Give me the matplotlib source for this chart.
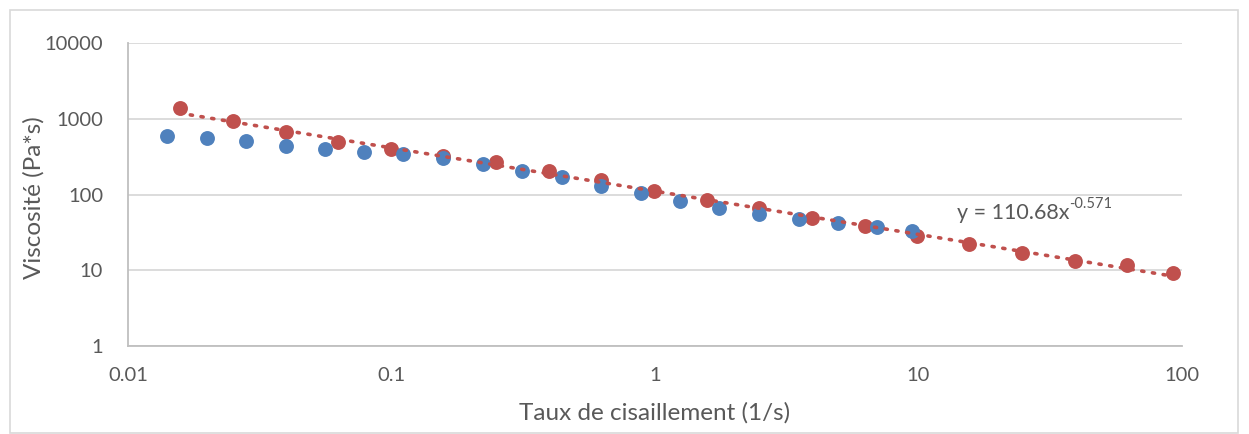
import matplotlib.pyplot as plt
import numpy as np
from matplotlib.patches import Rectangle

# shear rate (1/s) and viscosity (Pa*s)
rate_blue = [0.0141, 0.0199, 0.0281, 0.0397, 0.0559, 0.0789, 0.111, 0.157, 0.222, 0.314,
             0.443, 0.624, 0.885, 1.245, 1.75, 2.49, 3.51, 4.95, 6.98, 9.45]
visc_blue = [592, 557, 508, 441, 393, 364, 342, 303, 255, 207,
             169, 131, 104, 82, 67, 55.3, 48, 42, 36.9, 32.7]

rate_red = [0.0157, 0.0251, 0.0397, 0.0627, 0.0993, 0.157, 0.249, 0.395, 0.625, 0.991,
            1.57, 2.49, 3.94, 6.25, 9.87, 15.6, 24.8, 39.3, 61.9, 92.5]
visc_red = [1387, 942, 662, 498, 395, 322, 269, 204, 155, 111,
            83.8, 65.7, 49.4, 38, 28.5, 22.0, 17.1, 13.25, 11.8, 9.2]

fit_a = 110.68
fit_b = -0.571

blue = '#4F81BD'
red = '#C0504D'
grey = '#595959'

plt.rcParams['font.family'] = ['Lato', 'DejaVu Sans']

fig = plt.figure(figsize=(12.49, 4.34), dpi=100)
ax = fig.add_axes([128 / 1249, 1 - 346 / 434, (1182 - 128) / 1249, (346 - 43) / 434])

ax.scatter(rate_red, visc_red, s=115, color=red, zorder=3, linewidths=0)
ax.scatter(rate_blue, visc_blue, s=115, color=blue, zorder=4, linewidths=0)

# power-law trendline through the red series
xf = np.logspace(np.log10(rate_red[0]), np.log10(rate_red[-1]), 200)
ax.plot(xf, fit_a * xf ** fit_b, color=red, lw=2.6, linestyle=(0, (0.6, 2.4)),
        dash_capstyle='round', zorder=5)

ax.set_xscale('log')
ax.set_yscale('log')
ax.set_xlim(0.01, 100)
ax.set_ylim(1, 10000)
ax.set_xticks([0.01, 0.1, 1, 10, 100])
ax.set_xticklabels(['0.01', '0.1', '1', '10', '100'])
ax.set_yticks([1, 10, 100, 1000, 10000])
ax.set_yticklabels(['1', '10', '100', '1000', '10000'])
ax.minorticks_off()
ax.tick_params(length=0, labelsize=14.5, labelcolor=grey)
ax.tick_params(axis='y', pad=18)
ax.tick_params(axis='x', pad=15)

ax.grid(axis='y', color='#d9d9d9', lw=1.3)
ax.set_axisbelow(True)
for s in ['top', 'right']:
    ax.spines[s].set_visible(False)
for s in ['left', 'bottom']:
    ax.spines[s].set_color('#bfbfbf')
    ax.spines[s].set_linewidth(1.3)

ax.set_xlabel('Taux de cisaillement (1/s)', fontsize=17.5, color=grey, va='top')
ax.set_ylabel('Viscosité (Pa*s)', fontsize=17.5, color=grey)
ax.xaxis.set_label_coords(0.5, -0.185)
ax.yaxis.set_label_coords(-0.079, 0.49)

# trendline equation, exponent as a separate smaller text
eq = fig.text(957 / 1249, 1 - 213 / 434, 'y = 110.68x', fontsize=15.5, color=grey,
              va='center', ha='left')
ax.annotate('-0.571', xy=(1.0, 0.62), xycoords=eq, fontsize=10.5, color=grey,
            va='bottom', ha='left')

# light chart border
fig.patches.append(Rectangle((10 / 1249, 0.002), 1228 / 1249, 1 - 10 / 434 - 0.002,
                             transform=fig.transFigure, fill=False, edgecolor='#d9d9d9', lw=1.2))

fig.savefig('out.png', dpi=100)
